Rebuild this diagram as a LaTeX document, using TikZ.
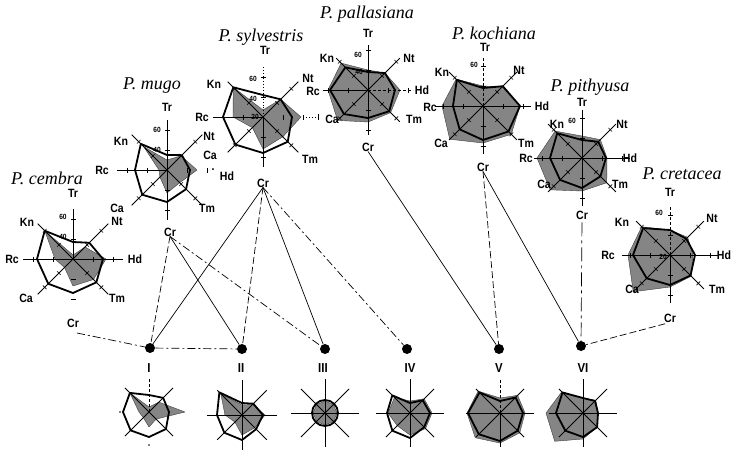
\documentclass[tikz,border=0pt]{standalone}
\usepackage{fontspec}
\setmainfont{Liberation Serif}
\newfontfamily\lab[FakeStretch=0.88]{Liberation Sans}
\usetikzlibrary{calc}
\tikzset{
 lbl/.style={font=\lab\bfseries\fontsize{12}{13}\selectfont, inner sep=0pt},
 ttl/.style={font=\itshape\fontsize{18}{20}\selectfont, inner sep=0pt},
 num/.style={font=\lab\bfseries\fontsize{7.5}{8}\selectfont, inner sep=0pt},
 roman/.style={font=\lab\bfseries\fontsize{13}{15}\selectfont, inner sep=0pt},
 shd/.style={fill=black!48, draw=black!75, line width=0.4pt, line join=round},
 outl/.style={draw=black, line width=1.8pt, line join=round},
 axs/.style={draw=black, line width=0.8pt},
 axd/.style={draw=black, line width=0.8pt, dash pattern=on 3pt off 2pt},
 axo/.style={draw=black, line width=0.9pt, dotted},
 axn/.style={draw=none},
 tick/.style={draw=black, line width=0.6pt},
 dot/.style={circle, fill=black, minimum size=10pt, inner sep=0pt},
 link/.style={line width=0.7pt},
 ldash/.style={link, dash pattern=on 7pt off 3pt},
 ldd/.style={link, dash pattern=on 8pt off 3pt on 2pt off 3pt},
 llong/.style={link, dash pattern=on 14pt off 4pt on 3pt off 4pt},
}
\newcommand\oct[8]{(90:#1pt) -- (45:#2pt) -- (0:#3pt) -- (-45:#4pt) -- (-90:#5pt) -- (-135:#6pt) -- (180:#7pt) -- (135:#8pt) -- cycle}
\newcommand\axes[9]{%
 \draw[ax#2] (0,0) -- (90:#1pt);
 \draw[ax#3] (0,0) -- (45:#1pt);
 \draw[ax#4] (0,0) -- (0:#1pt);
 \draw[ax#5] (0,0) -- (-45:#1pt);
 \draw[ax#6] (0,0) -- (-90:#1pt);
 \draw[ax#7] (0,0) -- (-135:#1pt);
 \draw[ax#8] (0,0) -- (180:#1pt);
 \draw[ax#9] (0,0) -- (135:#1pt);}
\newcommand\ticks{\foreach \a in {90,45,0,-45,-90,-135,180,135}{\foreach \r in {20,40}{\draw[tick, rotate=\a] (\r pt,-2.5pt) -- (\r pt,2.5pt);}}}
\begin{document}
\begin{tikzpicture}[x=1pt,y=-1pt]
\useasboundingbox (0,0) rectangle (734,451);
\fill[white] (0,0) rectangle (734,451);

% ---- dots and roman labels
\node[dot] (dI) at (150,348) {};
\node[dot] (dII) at (242,349) {};
\node[dot] (dIII) at (325,349) {};
\node[dot] (dIV) at (407,349) {};
\node[dot] (dV) at (499,349) {};
\node[dot] (dVI) at (581,346) {};
\node[roman] (rI) at (149,368) {I};
\node[roman] (rII) at (241,368) {II};
\node[roman] (rIII) at (323,368) {III};
\node[roman] (rIV) at (410,368) {IV};
\node[roman] (rV) at (499,368) {V};
\node[roman] (rVI) at (583,368) {VI};

% ---- Cr labels
\node[lbl] (cemCr) at (73,323) {Cr};
\node[lbl] (mugCr) at (170,232) {Cr};
\node[lbl] (sylCr) at (263,183) {Cr};
\node[lbl] (palCr) at (368,147) {Cr};
\node[lbl] (kocCr) at (483,167) {Cr};
\node[lbl] (pitCr) at (582,215) {Cr};
\node[lbl] (creCr) at (670,318) {Cr};
\coordinate (cemO) at (77,333);

% ---- connectors
\draw[ldd] (cemO) -- (dI.center) -- (dII);
\draw[ldash] (mugCr.south) -- (dI);
\draw[link] (mugCr.south) -- (dII);
\draw[ldd] (mugCr.south) -- (dIII);
\draw[link] (sylCr.south) -- (dI);
\draw[ldash] (sylCr.south) -- (dII);
\draw[link] (sylCr.south) -- (dIII);
\draw[ldd] (sylCr.south) -- (dIV);
\draw[link] (palCr.south) -- (dV);
\draw[ldash] (kocCr.south) -- (dV);
\draw[link] (kocCr.south) -- (dVI);
\draw[llong, shorten <=3pt] (pitCr.south) -- (dVI);
\draw[ldash, shorten <=5pt] (creCr.south) -- (dVI);

% ---- P. cembra
\begin{scope}[shift={(73,259)}]
\fill[shd] \oct{4}{17}{33}{29}{27}{12}{18}{40};
\axes{50}{s}{s}{s}{s}{n}{s}{s}{s}
\ticks
\draw[outl] \oct{17}{23}{30}{33}{34}{35}{36}{40};
\end{scope}
\node[ttl] (tcem) at (47,178) {P. cembra};
\node[lbl] (cemTr) at (73,193) {Tr};
\node[num] (cem60) at (63,217) {60};
\node[num] (cem40) at (63,237) {40};
\node[lbl] (cemKn) at (27,222) {Kn};
\node[lbl] (cemNt) at (117,221) {Nt};
\node[lbl] (cemRc) at (12,259) {Rc};
\node[lbl] (cemHd) at (135,259) {Hd};
\node[lbl] (cemCa) at (26,298) {Ca};
\node[lbl] (cemTm) at (117,298) {Tm};

% ---- P. mugo
\begin{scope}[shift={(167,170)}]
\fill[shd] \oct{10}{20}{30}{18}{23}{10}{8}{33};
\axes{50}{s}{s}{n}{s}{s}{s}{s}{s}
\ticks
\draw[outl] \oct{15}{21}{23}{27}{32}{35}{32}{37};
\end{scope}
\node[ttl] (tmug) at (152,86) {P. mugo};
\node[lbl] (mugTr) at (167,107) {Tr};
\node[num] (mug60) at (157,130) {60};
\node[num] (mug40) at (157,150) {40};
\node[lbl] (mugKn) at (121,141) {Kn};
\node[lbl] (mugNt) at (209,136) {Nt};
\node[lbl] (mugRc) at (102,170) {Rc};
\node[lbl] (mugDot) at (213,170) {.};
\node[lbl] (mugHd) at (227,176) {Hd};
\node[lbl] (mugCa) at (117,208) {Ca};
\node[lbl] (mugTm) at (207,208) {Tm};

% ---- P. sylvestris
\begin{scope}[shift={(263,117)}]
\fill[shd] \oct{7}{25}{38}{28}{32}{15}{30}{42};
\axes{50}{o}{s}{n}{s}{s}{s}{s}{s}
\ticks
\draw[outl] \oct{22}{25}{29}{35}{36}{39}{40}{42};
\draw[axo] (40pt,0pt) -- (55pt,0pt);
\draw[tick] (55pt,-3pt) -- (55pt,3pt);
\end{scope}
\node[ttl] (tsyl) at (261,37) {P. sylvestris};
\node[lbl] (sylTr) at (265,50) {Tr};
\node[num] (syl60) at (253,79) {60};
\node[num] (syl40) at (253,99) {40};
\node[num] (syl20) at (255,117) {20};
\node[lbl] (sylKn) at (214,84) {Kn};
\node[lbl] (sylNt) at (308,78) {Nt};
\node[lbl] (sylRc) at (202,117) {Rc};
\node[lbl] (sylCa) at (210,155) {Ca};
\node[lbl] (sylTm) at (310,159) {Tm};

% ---- P. pallasiana
\begin{scope}[shift={(368,90)}]
\fill[shd] \oct{20}{24}{32}{32}{32}{43}{40}{38};
\axes{45}{s}{s}{d}{s}{s}{s}{s}{s}
\ticks
\draw[outl] \oct{18}{24}{27}{30}{28}{34}{38}{32};
\end{scope}
\node[ttl] (tpal) at (367,14) {P. pallasiana};
\node[lbl] (palTr) at (368,33) {Tr};
\node[num] (pal60) at (358,55) {60};
\node[num] (pal40) at (359,72) {40};
\node[lbl] (palKn) at (327,58) {Kn};
\node[lbl] (palNt) at (409,58) {Nt};
\node[lbl] (palRc) at (313,91) {Rc};
\node[lbl] (palHd) at (422,90) {Hd};
\node[lbl] (palCa) at (332,119) {Ca};
\node[lbl] (palTm) at (414,119) {Tm};

% ---- P. kochiana
\begin{scope}[shift={(483,106)}]
\fill[shd] \oct{20}{27}{37}{40}{37}{47}{41}{38};
\axes{48}{d}{s}{s}{s}{s}{s}{s}{s}
\ticks
\draw[outl] \oct{18}{28}{37}{36}{34}{33}{30}{37};
\end{scope}
\node[ttl] (tkoc) at (494,33) {P. kochiana};
\node[lbl] (kocTr) at (485,47) {Tr};
\node[num] (koc60) at (474,65) {60};
\node[lbl] (kocKn) at (442,72) {Kn};
\node[lbl] (kocNt) at (519,70) {Nt};
\node[lbl] (kocRc) at (430,107) {Rc};
\node[lbl] (kocHd) at (542,106) {Hd};
\node[lbl] (kocCa) at (441,143) {Ca};
\node[lbl] (kocTm) at (526,143) {Tm};

% ---- P. pithyusa
\begin{scope}[shift={(582,158)}]
\fill[shd] \oct{22}{26}{25}{35}{33}{45}{45}{38};
\axes{48}{s}{s}{s}{s}{s}{s}{s}{s}
\ticks
\draw[outl] \oct{18}{23}{24}{26}{30}{31}{32}{35};
\end{scope}
\node[ttl] (tpit) at (590,87) {P. pithyusa};
\node[lbl] (pitTr) at (582,102) {Tr};
\node[num] (pit60) at (572,121) {60};
\node[lbl] (pitKn) at (557,124) {Kn};
\node[lbl] (pitNt) at (622,124) {Nt};
\node[lbl] (pitRc) at (526,158) {Rc};
\node[lbl] (pitHd) at (630,158) {Hd};
\node[lbl] (pitCa) at (544,184) {Ca};
\node[lbl] (pitTm) at (620,184) {Tm};

% ---- P. cretacea
\begin{scope}[shift={(670,255)}]
\fill[shd] \oct{25}{25}{23}{30}{32}{52}{42}{40};
\axes{48}{d}{s}{s}{s}{s}{s}{s}{s}
\ticks
\draw[outl] \oct{25}{23}{25}{29}{30}{33}{37}{38};
\end{scope}
\node[ttl] (tcre) at (682,174) {P. cretacea};
\node[lbl] (creTr) at (670,192) {Tr};
\node[num] (cre60) at (659,213) {60};
\node[num] (cre20) at (663,257) {20};
\node[lbl] (creKn) at (622,222) {Kn};
\node[lbl] (creNt) at (712,218) {Nt};
\node[lbl] (creRc) at (608,255) {Rc};
\node[lbl] (creHd) at (724,255) {Hd};
\node[lbl] (creCa) at (632,289) {Ca};
\node[lbl] (creTm) at (717,289) {Tm};

% ---- bottom charts
\begin{scope}[shift={(149,412)}]
\fill[shd] \oct{5}{14}{36}{10}{15}{8}{10}{27};
\axes{34}{d}{s}{n}{s}{n}{s}{n}{s}
\fill (-29pt,0pt) circle (0.9pt);
\fill (0pt,-33pt) circle (0.9pt);
\draw[outl] \oct{17}{20}{20}{24}{25}{26}{26}{27};
\end{scope}
\begin{scope}[shift={(242,415)}]
\fill[shd] \oct{10}{15}{23}{18}{20}{10}{17}{30};
\axes{35}{s}{s}{s}{s}{s}{s}{s}{s}
\draw[outl] \oct{12}{16}{21}{20}{25}{25}{25}{32};
\end{scope}
\begin{scope}[shift={(325,413)}]
\fill[shd] \oct{12}{12}{12}{12}{12}{12}{12}{12};
\axes{34}{s}{s}{s}{s}{s}{s}{s}{s}
\draw[outl] (0,0) circle (13pt);
\end{scope}
\begin{scope}[shift={(410,413)}]
\fill[shd] \oct{12}{20}{22}{22}{22}{18}{22}{22};
\axes{34}{s}{s}{s}{s}{s}{s}{s}{s}
\draw[outl] \oct{10}{18}{20}{20}{25}{25}{23}{25};
\end{scope}
\begin{scope}[shift={(500,413)}]
\fill[shd] \oct{15}{25}{25}{28}{30}{35}{33}{31};
\axes{34}{d}{s}{s}{s}{s}{s}{s}{s}
\draw[outl] \oct{12}{22}{23}{25}{28}{30}{32}{29};
\end{scope}
\begin{scope}[shift={(583,413)}]
\fill[shd] \oct{15}{18}{15}{20}{26}{40}{37}{30};
\axes{34}{s}{s}{s}{s}{s}{s}{s}{s}
\draw[outl] \oct{15}{17}{15}{20}{24}{25}{27}{29};
\end{scope}
\end{tikzpicture}
\end{document}
